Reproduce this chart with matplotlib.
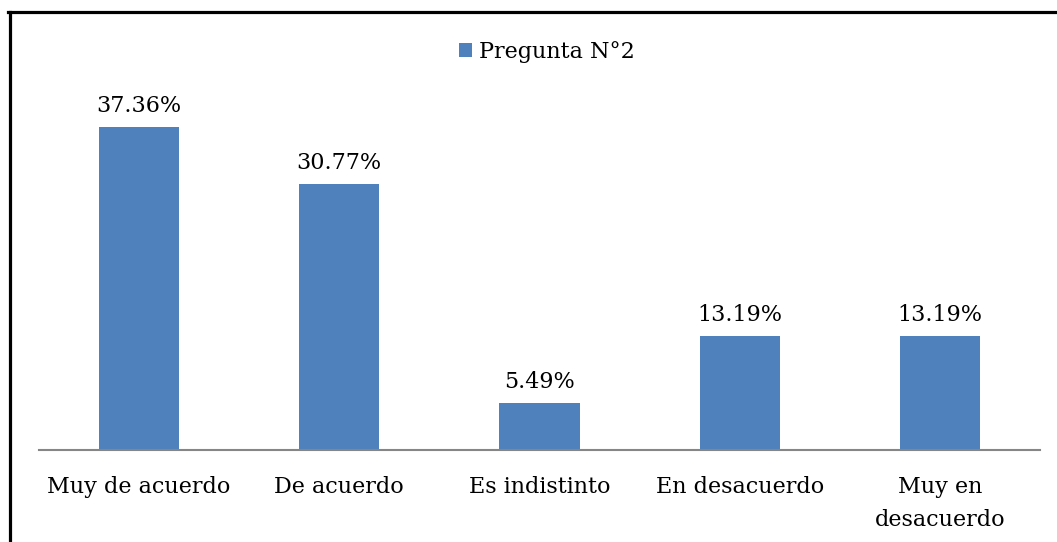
import matplotlib.pyplot as plt
from matplotlib.lines import Line2D

# Data
categories = ['Muy de acuerdo', 'De acuerdo', 'Es indistinto', 'En desacuerdo', 'Muy en\ndesacuerdo']
values = [37.36, 30.77, 5.49, 13.19, 13.19]
series_name = 'Pregunta N°2'

BAR_COLOR = '#4F81BD'
AXIS_COLOR = '#868686'

plt.rcParams['font.family'] = ['DejaVu Serif']

W, H = 1057, 542
fig = plt.figure(figsize=(W / 100, H / 100), dpi=100)
ax = fig.add_axes([39 / W, 92 / H, 1001 / W, 0.638])

x = range(len(categories))
ax.bar(x, values, width=0.4, color=BAR_COLOR, label=series_name)

for i, v in zip(x, values):
    ax.annotate(f'{v:.2f}%', (i, v), xytext=(0, 7), textcoords='offset points',
                ha='center', va='bottom', fontsize=16)

ax.set_xlim(-0.5, len(categories) - 0.5)
ax.set_ylim(0, 40)
ax.set_xticks(list(x))
ax.set_xticklabels(categories, fontsize=16, linespacing=1.6)
ax.tick_params(axis='x', length=0, pad=19)
ax.set_yticks([])
for side in ['top', 'right', 'left']:
    ax.spines[side].set_visible(False)
ax.spines['bottom'].set_color(AXIS_COLOR)
ax.spines['bottom'].set_linewidth(1.5)

fig.legend(loc='center', bbox_to_anchor=(547 / W, 1 - 52 / H), frameon=False,
           fontsize=16, handlelength=0.6, handleheight=0.6, handletextpad=0.3)

# Chart frame (only top and left edges visible in the crop)
fig.add_artist(Line2D([9.5 / W, 9.5 / W], [0, 1 - 12 / H], color='black', linewidth=2.3))
fig.add_artist(Line2D([8 / W, 1], [1 - 12 / H, 1 - 12 / H], color='black', linewidth=2.3))

fig.savefig('out.png', dpi=100)
